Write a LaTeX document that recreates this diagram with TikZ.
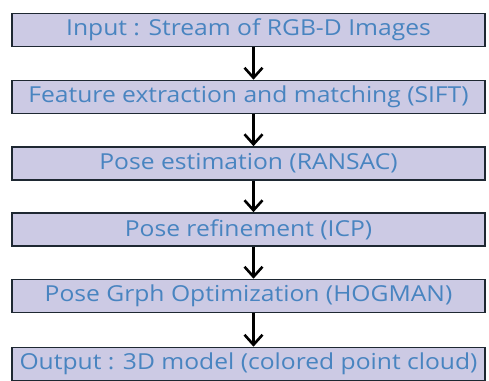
\documentclass[tikz,border=0pt]{standalone}
\usepackage{fontspec}
\setmainfont[FakeStretch=1.12]{Open Sans}
\usetikzlibrary{arrows.meta}
\definecolor{boxfill}{RGB}{204,202,228}
\definecolor{boxtext}{RGB}{72,132,192}
\definecolor{boxline}{RGB}{30,40,50}
\begin{document}
\begin{tikzpicture}[x=1pt,y=1pt,
  stage/.style={draw=boxline, line width=1.6pt, fill=boxfill, minimum width=473pt, minimum height=33pt, inner sep=0pt, text=boxtext, font=\fontsize{22}{24}\selectfont},
  flow/.style={line width=2.6pt, -{Straight Barb[length=10pt,width=18pt,line width=2.6pt]}}]
\fill[white] (0,0) rectangle (489,-380);
\useasboundingbox (0,0) rectangle (489,-380);
\node[stage] (s1) at (248.5,-30) {Input : Stream of RGB-D Images};
\node[stage] (s2) at (248.5,-97) {Feature extraction and matching (SIFT)};
\node[stage] (s3) at (248.5,-163.5) {Pose estimation (RANSAC)};
\node[stage] (s4) at (248.5,-229.5) {Pose refinement (ICP)};
\node[stage] (s5) at (248.5,-296) {Pose Grph Optimization (HOGMAN)};
\node[stage] (s6) at (248.5,-364) {Output : 3D model (colored point cloud)};
\foreach \a/\b in {s1/s2,s2/s3,s3/s4,s4/s5,s5/s6}
  \draw[flow] ([xshift=5pt]\a.south) -- ([xshift=5pt]\b.north);
\end{tikzpicture}
\end{document}
